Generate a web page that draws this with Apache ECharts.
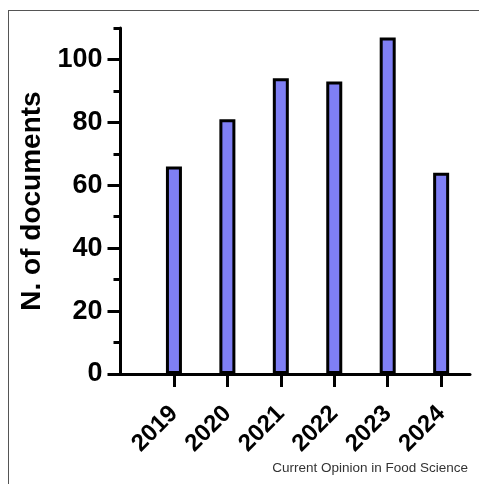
<!DOCTYPE html>
<html>
<head>
<meta charset="utf-8">
<script src="https://cdn.jsdelivr.net/npm/echarts@6/dist/echarts.min.js"></script>
<style>
  html, body { margin: 0; padding: 0; background: #fff; }
  #frame {
    position: absolute; left: 8px; top: 10px; right: 0; bottom: 0;
    border-left: 1px solid #555; border-top: 1px solid #555;
  }
  #chart { position: absolute; left: 0; top: 0; width: 479px; height: 484px; }
</style>
</head>
<body>
<div id="frame"></div>
<div id="chart"></div>
<script>
// Documents published per year
const years = [2019, 2020, 2021, 2022, 2023, 2024];
const docCounts = [66, 81, 94, 93, 107, 64];

// Y axis ticks
const yMajorTicks = [0, 20, 40, 60, 80, 100];
const yMinorTicks = [10, 30, 50, 70, 90, 110];
const yMax = 110;

// X axis range (one empty slot before the first year)
const xMin = 2018;
const xMax = 2024.54;

const FONT = '"Liberation Sans", Arial, Helvetica, sans-serif';

const chart = echarts.init(document.getElementById('chart'), null, { renderer: 'canvas' });

const gridBox = { left: 120.5, right: 9, top: 28, bottom: 110 };

chart.setOption({
  animation: false,
  backgroundColor: 'transparent',
  grid: [
    Object.assign({ containLabel: false }, gridBox),
    Object.assign({ containLabel: false }, gridBox)
  ],
  xAxis: [
    {
      type: 'value', gridIndex: 0, min: xMin, max: xMax, interval: 1,
      splitLine: { show: false },
      axisLine: { show: true, onZero: false, lineStyle: { color: '#000', width: 3 } },
      axisTick: { show: true, length: 13, lineStyle: { color: '#000', width: 3 }, customValues: years },
      axisLabel: {
        customValues: years,
        formatter: v => String(v),
        rotate: 45, margin: 36,
        color: '#000', fontFamily: FONT, fontWeight: 'bold', fontSize: 24
      }
    },
    {
      type: 'value', gridIndex: 1, min: xMin, max: xMax, show: false
    }
  ],
  yAxis: [
    {
      type: 'value', gridIndex: 0, min: 0, max: yMax, interval: 20,
      name: 'N. of documents', nameLocation: 'middle', nameGap: 74,
      nameTextStyle: { color: '#000', fontFamily: FONT, fontWeight: 'bold', fontSize: 28 },
      splitLine: { show: false },
      axisLine: { show: true, lineStyle: { color: '#000', width: 3 } },
      axisTick: { show: true, length: 13, lineStyle: { color: '#000', width: 3 }, customValues: yMajorTicks },
      axisLabel: {
        customValues: yMajorTicks,
        margin: 18,
        color: '#000', fontFamily: FONT, fontWeight: 'bold', fontSize: 27
      }
    },
    {
      type: 'value', gridIndex: 1, min: 0, max: yMax, position: 'left',
      splitLine: { show: false },
      axisLine: { show: false },
      axisLabel: { show: false },
      axisTick: { show: true, length: 7, lineStyle: { color: '#000', width: 3 }, customValues: yMinorTicks }
    }
  ],
  series: [{
    type: 'bar',
    xAxisIndex: 0, yAxisIndex: 0,
    data: years.map((y, i) => [y, docCounts[i]]),
    barWidth: 16,
    itemStyle: { color: '#7f7ff4', borderColor: '#000', borderWidth: 3 }
  }],
  graphic: [{
    type: 'text', right: 11, bottom: 9,
    style: {
      text: 'Current Opinion in Food Science',
      fill: '#333', font: '13.5px ' + FONT
    }
  }]
});
</script>
</body>
</html>
